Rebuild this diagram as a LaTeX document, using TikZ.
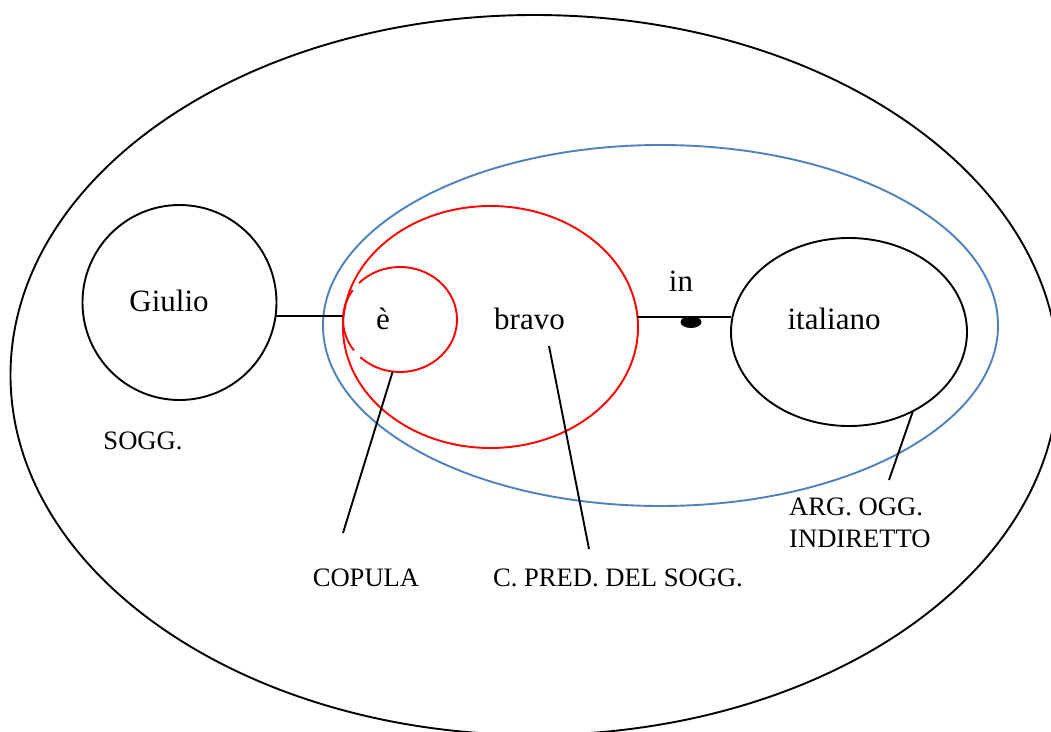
\documentclass[tikz,border=0pt]{standalone}
\usepackage{fontspec}
\setmainfont{Liberation Serif}
\usetikzlibrary{shapes.geometric}
\definecolor{ovalblue}{RGB}{79,129,189}
\begin{document}
\begin{tikzpicture}[x=1pt,y=-1pt,
  oval/.style={ellipse, inner sep=0pt, outer sep=0pt, line width=1.9pt},
  big/.style={font=\fontsize{31}{37}\selectfont, inner sep=0pt, anchor=base},
  small/.style={font=\fontsize{26.6}{32}\selectfont, inner sep=0pt, anchor=base},
  link/.style={line width=1.9pt}]
\useasboundingbox (0,0) rectangle (1051,731);
\clip (0,0) rectangle (1051,731);
% shapes
\node[oval, draw, minimum width=1048, minimum height=720] (outer) at (534.5,375) {};
\node[oval, draw=ovalblue, minimum width=675, minimum height=361] (blue) at (660.5,325.5) {};
\node[oval, draw=red, minimum width=295, minimum height=242] (pred) at (490.5,327) {};
\node[oval, minimum width=114, minimum height=105] (cop) at (400,319.5) {};
\draw[red, line width=1.9pt] (cop.center) ++(144:57 and 52.5) arc[start angle=144, end angle=214, x radius=57, y radius=52.5];
\draw[red, line width=1.9pt] (cop.center) ++(224:57 and 52.5) arc[start angle=224, end angle=494, x radius=57, y radius=52.5];
\node[oval, draw, minimum width=194, minimum height=195] (giulio) at (179.5,302.5) {};
\node[oval, draw, minimum width=236, minimum height=188] (ital) at (849,332) {};
\node[oval, fill, minimum width=21, minimum height=12] (dot) at (691,322) {};
% connectors
\draw[link] (giulio.-8) -- (giulio.-8 -| cop.west);
\draw[link] (pred.4) -- (pred.4 -| ital.west);
\coordinate (copEnd) at (343,533);
\coordinate (predA) at (549,346);
\coordinate (predB) at (589,549);
\coordinate (argEnd) at (889,480);
\draw[link] (cop.-98) -- (copEnd);
\draw[link] (predA) -- (predB);
\draw[link] (ital.-51.8) -- (argEnd);
% texts
\node[big] (tGiulio) at (169,311) {Giulio};
\node[big] (tE) at (383,329) {è};
\node[big] (tBravo) at (529.5,329) {bravo};
\node[big] (tIn) at (681,291) {in};
\node[big] (tItal) at (834,329) {italiano};
\node[small] (tSogg) at (143,449) {SOGG.};
\node[small] (tCop) at (366,586) {COPULA};
\node[small] (tPred) at (618,586) {C. PRED. DEL SOGG.};
\node[small, anchor=base west] (tArg1) at (789,515) {ARG. OGG.};
\node[small, anchor=base west] (tArg2) at (789,547) {INDIRETTO};
\end{tikzpicture}
\end{document}
